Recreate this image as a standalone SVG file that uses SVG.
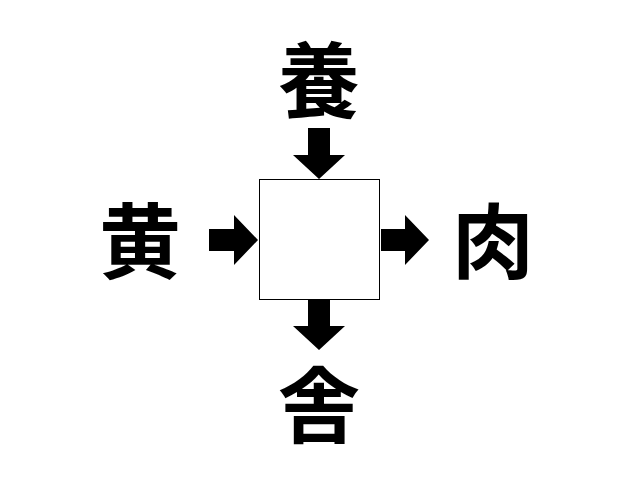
<svg xmlns="http://www.w3.org/2000/svg" width="640" height="480" viewBox="0 0 640 480">
<style>
.k{font-family:"Noto Sans CJK JP","Noto Sans CJK SC",sans-serif;font-weight:700;font-size:82px;text-anchor:middle;dominant-baseline:central;fill:#000}
.a{fill:#000}
</style>
<rect width="640" height="480" fill="#fff"/>
<g id="center"><rect x="259.5" y="179.5" width="120" height="120" fill="#fff" stroke="#000" stroke-width="1"/></g>
<g id="top"><text class="k" x="319" y="75">養</text></g>
<g id="left"><text class="k" x="140" y="236">黄</text></g>
<g id="right"><text class="k" x="493" y="236">肉</text></g>
<g id="bottom"><text class="k" x="319" y="400">舎</text></g>
<g id="connectors">
<polygon class="a" points="308,128 330,128 330,155 345,155 319,179 293,155 308,155"/>
<polygon class="a" points="308,300 330,300 330,326 345,326 319,350 293,326 308,326"/>
<polygon class="a" points="209,229 234,229 234,215 258,240 234,265 234,251 209,251"/>
<polygon class="a" points="381,229 405,229 405,215 429,240 405,265 405,251 381,251"/>
</g>
</svg>
